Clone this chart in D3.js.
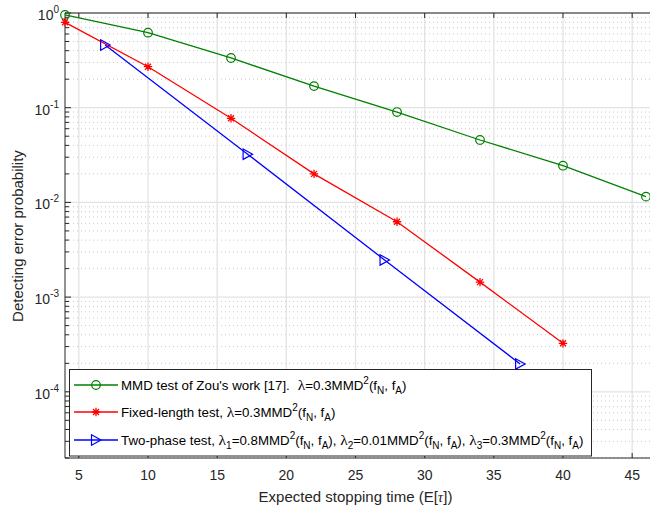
<!DOCTYPE html>
<html><head><meta charset="utf-8">
<script src="https://cdn.jsdelivr.net/npm/d3@7"></script>
<style>
body{margin:0;background:#fff;}
svg{display:block;font-family:"Liberation Sans",Arial,sans-serif;}
</style></head>
<body>
<svg id="c" width="650" height="507"></svg>
<script>
// ---- data ----
const xGreen = [4, 10, 16, 22, 28, 34, 40, 46];
const yGreen = [0.953, 0.62, 0.335, 0.169, 0.090, 0.0456, 0.0244, 0.0115];
const xRed = [4, 10, 16, 22, 28, 34, 40];
const yRed = [0.797, 0.271, 0.0773, 0.0200, 0.00625, 0.00144, 0.000325];
const xBlue = [6.9, 17.2, 27.1, 36.9];
const yBlue = [0.459, 0.0323, 0.00247, 0.000197];
const xTicks = [5, 10, 15, 20, 25, 30, 35, 40, 45];
const yTickExps = [0, -1, -2, -3, -4];

const svg = d3.select("#c");
const L = 65, R = 646, T = 13, B = 458;
const x = d3.scaleLinear().domain([4, 46]).range([L, R]);
const y = d3.scaleLog().domain([2e-5, 1]).range([B, T]);
const W = 660;
const axisCol = "#262626";

const g = svg.append("g");

// minor grid (dotted)
const minorVals = [];
for (let e = -5; e < 0; e++) for (let m = 2; m <= 9; m++) {
  const v = m * Math.pow(10, e);
  if (v >= 2e-5 && v < 1) minorVals.push(v);
}
g.selectAll(".mg").data(minorVals).enter().append("line")
  .attr("x1", L).attr("x2", W).attr("y1", d => y(d)).attr("y2", d => y(d))
  .attr("stroke", "#c8c8c8").attr("stroke-width", 1).attr("stroke-dasharray", "1,3");
g.selectAll(".yg").data(yTickExps).enter().append("line")
  .attr("x1", L).attr("x2", W).attr("y1", d => y(Math.pow(10, d))).attr("y2", d => y(Math.pow(10, d)))
  .attr("stroke", "#e3e3e3").attr("stroke-width", 1.3);
g.selectAll(".xg").data(xTicks).enter().append("line")
  .attr("x1", d => x(d)).attr("x2", d => x(d)).attr("y1", T).attr("y2", B)
  .attr("stroke", "#e3e3e3").attr("stroke-width", 1.3);

// frame
g.append("line").attr("x1", L).attr("x2", W).attr("y1", T).attr("y2", T).attr("stroke", axisCol);
g.append("line").attr("x1", L).attr("x2", W).attr("y1", B).attr("y2", B).attr("stroke", axisCol);
g.append("line").attr("x1", L).attr("x2", L).attr("y1", T).attr("y2", B).attr("stroke", axisCol);

// ticks
g.selectAll(".xt").data(xTicks).enter().append("line")
  .attr("x1", d => x(d)).attr("x2", d => x(d)).attr("y1", B).attr("y2", B - 5).attr("stroke", axisCol);
g.selectAll(".xtt").data(xTicks).enter().append("line")
  .attr("x1", d => x(d)).attr("x2", d => x(d)).attr("y1", T).attr("y2", T + 5).attr("stroke", axisCol);
g.selectAll(".yt").data(yTickExps).enter().append("line")
  .attr("x1", L).attr("x2", L + 6).attr("y1", d => y(Math.pow(10, d))).attr("y2", d => y(Math.pow(10, d)))
  .attr("stroke", axisCol);
g.selectAll(".ymt").data(minorVals).enter().append("line")
  .attr("x1", L).attr("x2", L + 4).attr("y1", d => y(d)).attr("y2", d => y(d)).attr("stroke", axisCol);

// tick labels
g.selectAll(".xl").data(xTicks).enter().append("text")
  .attr("x", d => x(d)).attr("y", B + 22).attr("text-anchor", "middle")
  .attr("font-size", 14).attr("fill", axisCol).text(d => d);
const yl = g.selectAll(".yl").data(yTickExps).enter().append("text")
  .attr("x", 59).attr("y", d => y(Math.pow(10, d)) + 7).attr("text-anchor", "end")
  .attr("font-size", 14).attr("fill", axisCol);
yl.append("tspan").text("10");
yl.append("tspan").attr("font-size", 10).attr("dy", -7).text(d => d === 0 ? "0" : "-" + (-d));

// axis labels
const xlab = g.append("text").attr("x", (L + R) / 2).attr("y", 502).attr("text-anchor", "middle")
  .attr("font-size", 15).attr("fill", axisCol);
xlab.append("tspan").text("Expected stopping time (E[");
xlab.append("tspan").attr("font-family", "Liberation Serif").attr("font-style", "italic").text("τ");
xlab.append("tspan").text("])");
g.append("text").attr("transform", "translate(23,236) rotate(-90)").attr("text-anchor", "middle")
  .attr("font-size", 15).attr("fill", axisCol).text("Detecting error probability");

// series
const series = [
  {xs: xGreen, ys: yGreen, color: "#008000", marker: "circle"},
  {xs: xRed, ys: yRed, color: "#ff0000", marker: "star"},
  {xs: xBlue, ys: yBlue, color: "#0000ff", marker: "tri"}
];
const line = d3.line().x(d => x(d[0])).y(d => y(d[1]));

function drawMarker(sel, type, color) {
  if (type === "circle") {
    sel.append("circle").attr("r", 4.3).attr("fill", "none").attr("stroke", color).attr("stroke-width", 1.2);
  } else if (type === "star") {
    const s = 4.2, d = 3;
    sel.append("path").attr("d", `M${-s},0L${s},0M0,${-s}L0,${s}M${-d},${-d}L${d},${d}M${-d},${d}L${d},${-d}`)
      .attr("stroke", color).attr("stroke-width", 1.3).attr("fill", "none");
  } else {
    sel.append("path").attr("d", "M-4.5,-5.2L5,0L-4.5,5.2Z").attr("fill", "none")
      .attr("stroke", color).attr("stroke-width", 1.2);
  }
}

series.forEach(s => {
  const pts = s.xs.map((v, i) => [v, s.ys[i]]);
  g.append("path").datum(pts).attr("d", line).attr("fill", "none")
    .attr("stroke", s.color).attr("stroke-width", 1.3);
  pts.forEach(p => {
    const m = g.append("g").attr("transform", `translate(${x(p[0])},${y(p[1])})`);
    drawMarker(m, s.marker, s.color);
  });
});

// legend text segments: [text, level(0 normal, -1 sub, 1 sup), isGreek, dx]
const LAM = ["λ", 0, true];
const mmdSeg = [["MMD", 0], ["2", 1], ["(f", 0], ["N", -1], [", f", 0], ["A", -1], [")", 0]];
const legendSegs = [
  [["MMD test of Zou's work [17].", 0], ["λ", 0, true, 8], ["=0.3", 0], ...mmdSeg],
  [["Fixed-length test, ", 0], LAM, ["=0.3", 0], ...mmdSeg],
  [["Two-phase test, ", 0], LAM, ["1", -1], ["=0.8", 0], ...mmdSeg, [", ", 0], LAM, ["2", -1], ["=0.01", 0], ...mmdSeg,
   [", ", 0], LAM, ["3", -1], ["=0.3", 0], ...mmdSeg]
];

const lg = svg.append("g");
lg.append("rect").attr("x", 69.5).attr("y", 369.5).attr("width", 522).attr("height", 86.5)
  .attr("fill", "#fff").attr("stroke", axisCol).attr("stroke-width", 1);
const ly = [385, 412, 440];
const shift = {"0": 0, "1": -6, "-1": 4};
series.forEach((s, i) => {
  lg.append("line").attr("x1", 74).attr("x2", 118).attr("y1", ly[i]).attr("y2", ly[i])
    .attr("stroke", s.color).attr("stroke-width", 1.3);
  const m = lg.append("g").attr("transform", `translate(96,${ly[i]})`);
  drawMarker(m, s.marker, s.color);
  const t = lg.append("text").attr("x", 121).attr("y", ly[i] + 5).attr("font-size", 13.3).attr("fill", "#000");
  let cur = 0;
  legendSegs[i].forEach(seg => {
    const lvl = seg[1];
    const target = shift[lvl];
    const sp = t.append("tspan").attr("dy", target - cur).text(seg[0]);
    cur = target;
    if (lvl !== 0) sp.attr("font-size", 10);
    if (seg[2]) sp.attr("font-family", "Liberation Serif").attr("font-size", 15.5);
    if (seg[3]) sp.attr("dx", seg[3]);
  });
});
</script>
</body></html>
